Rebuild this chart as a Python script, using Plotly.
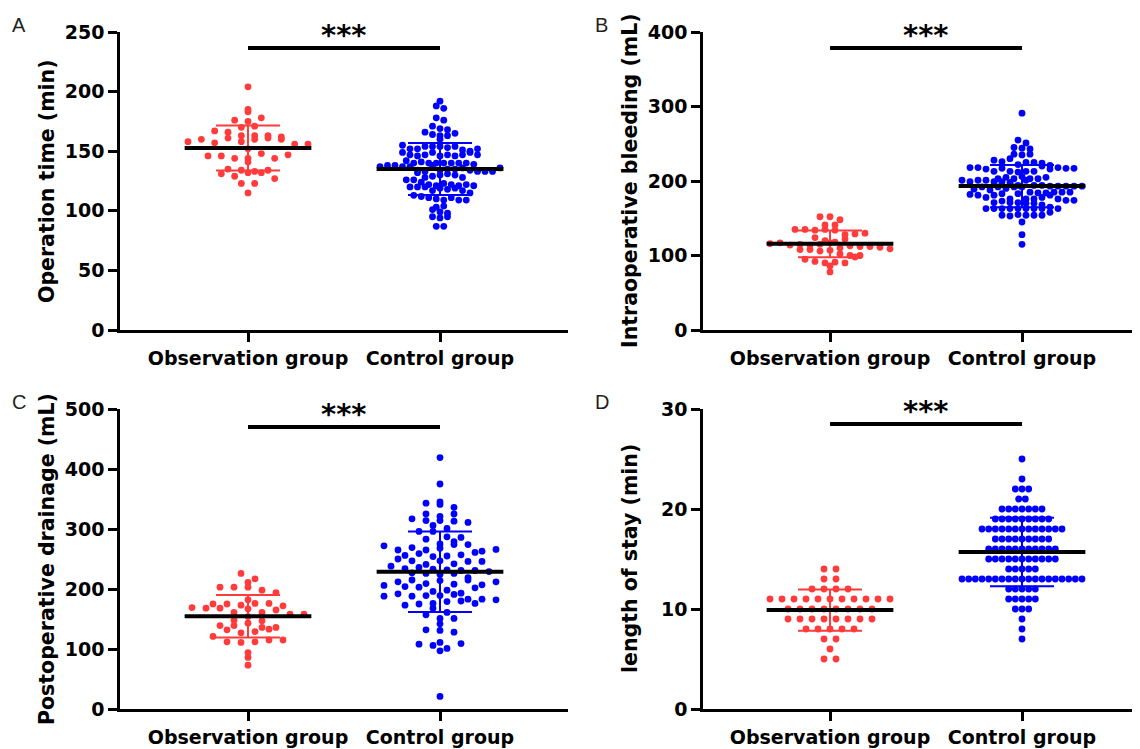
import numpy as np
import plotly.graph_objects as go

# ---------------- data ----------------
groups = ["Observation group", "Control group"]

obs_time = [204, 183, 185, 176, 175, 178, 170, 171, 167, 166, 163, 163, 163,
            158, 160, 157, 161, 158, 162, 160, 161, 160, 156, 156, 152,
            146, 146, 144, 144, 148, 144, 147, 141,
            135, 131, 129, 134, 133, 134, 132, 132, 127, 123, 123, 115]
ctrl_time = [192, 188, 186, 178, 176, 171, 169, 168, 166, 164, 163, 163, 165, 160,
             155, 152, 152, 154, 154, 154, 153, 154,
             149, 147, 146, 147, 151, 149, 146, 147, 146, 147, 149, 147, 150, 152,
             142, 140, 141, 137, 140, 140, 140, 138, 140, 138, 140, 137, 140,
             137, 134, 132, 133, 138, 139, 134, 135, 135, 136, 134, 133, 133, 133, 136,
             128, 129, 130, 131, 130, 126, 126, 128,
             124, 122, 120, 120, 121, 123, 122, 121, 122,
             120, 117, 119, 121, 118, 119, 117, 115,
             113, 112, 111, 110, 109, 111, 109, 109,
             103, 104, 101, 99, 98, 95, 94, 95, 87, 87]

obs_bleed = [152, 152, 148, 141, 141, 135, 135, 134, 135, 134, 128, 129, 130, 124,
             116, 117, 120, 114, 115, 114, 115, 118, 117, 122,
             110, 108, 108, 106, 113, 112, 112, 111, 107, 109, 102,
             100, 100, 95, 92, 90, 91, 90, 98, 86, 78]
ctrl_bleed = [291, 255, 251, 245, 244, 243, 236, 235, 236, 228, 226, 230,
              222, 225, 225, 224,
              218, 218, 216, 213, 217, 213, 212, 213, 213, 220, 216, 218, 217, 221, 217,
              203, 201, 205, 203, 206, 199, 201, 201, 199, 203, 203, 199, 198, 194, 205, 201,
              194, 189, 194, 192, 193, 193, 188, 193, 192, 193, 190, 192, 192, 193,
              182, 181, 185, 184, 184, 178, 181, 183, 176, 183, 176, 185, 185, 176, 178, 185, 181, 176,
              171, 173, 174, 171, 171, 170, 170, 174,
              163, 163, 163, 163, 163, 168, 165, 163, 163, 163, 158, 163,
              154, 153, 155, 154, 154, 154, 145, 128, 115]

obs_drain = [226, 217, 211, 203, 203, 203, 198, 194,
             182, 169, 175, 175, 173, 176, 168, 176, 168, 172,
             161, 167, 161, 165, 158, 158, 148, 154, 147,
             139, 139, 143, 136, 132, 127, 136, 129, 133,
             121, 112, 111, 112, 115, 115, 94, 86, 73]
ctrl_drain = [419, 375, 343, 345, 341, 336,
              325, 321, 325, 317, 314, 314, 313, 311, 306,
              301, 296, 296, 287, 283, 286,
              272, 265, 275, 269, 265, 268, 274, 274, 279,
              256, 259, 254, 263, 266, 255, 257, 261, 250, 247,
              241, 247, 242, 238, 234, 246, 246, 236, 233, 232, 231,
              227, 226, 224, 226, 231, 229,
              206, 204, 212, 215, 209, 214, 208, 203, 219, 215, 207, 212,
              188, 196, 192, 198, 188, 193, 189, 189, 202, 191,
              173, 183, 175, 176, 183, 179, 182, 180, 176,
              168, 157, 151, 161, 151, 142,
              132, 131, 128,
              108, 106, 101, 109, 97, 111, 21]

obs_stay = [14] * 2 + [13] * 2 + [12] * 4 + [11] * 11 + [10] * 8 + [9] * 8 + \
           [8] * 5 + [7] * 2 + [6] * 1 + [5] * 2
ctrl_stay = [25] * 1 + [23] * 1 + [22] * 3 + [21] * 2 + [20] * 7 + [19] * 9 + \
            [18] * 13 + [17] * 9 + [16] * 11 + [15] * 11 + [14] * 5 + [13] * 19 + \
            [12] * 5 + [11] * 5 + [10] * 3 + [9] * 1 + [8] * 1 + [7] * 1

panels = [
    dict(letter="A", title="Operation time (min)", obs=obs_time, ctrl=ctrl_time,
         ymax=250, dtick=50, sig=236.6),
    dict(letter="B", title="Intraoperative bleeding (mL)", obs=obs_bleed, ctrl=ctrl_bleed,
         ymax=400, dtick=100, sig=378.5),
    dict(letter="C", title="Postoperative drainage (mL)", obs=obs_drain, ctrl=ctrl_drain,
         ymax=500, dtick=100, sig=470),
    dict(letter="D", title="length of stay (min)", obs=obs_stay, ctrl=ctrl_stay,
         ymax=30, dtick=10, sig=28.5),
]

# ---------------- layout geometry ----------------
W, H = 1140, 749
RED = "#FF3B3B"
BLUE = "#0000FF"
FONT = "DejaVu Sans"
XPX_PER_UNIT = 192.0
OFF = 8  # the page body adds an 8 px margin; compensate

# pixel boxes of the four plotting areas on screen (left, right, top, bottom)
boxes = [(120, 568, 32, 330), (703, 1140, 32, 330),
         (120, 568, 409, 709), (703, 1140, 409, 709)]
boxes = [(l - OFF, r - OFF, t - OFF, b - OFF) for (l, r, t, b) in boxes]


def swarm(vals, ypx_per_unit, h=7.0, row_width=120.0, dmax=14.0):
    """GraphPad-like scatter: bin into pixel rows, centre each row,
    spacing chosen so that the widest row fills the column."""
    v = np.asarray(vals, float)
    rows = np.round(v * ypx_per_unit / h).astype(int)
    uniq, counts = np.unique(rows, return_counts=True)
    d = min(dmax, row_width / max(counts.max() - 1, 1))
    offs = np.zeros(len(v))
    for r in uniq:
        idx = np.where(rows == r)[0]
        n = len(idx)
        for k, i in enumerate(idx):
            offs[i] = (k - (n - 1) / 2) * d / XPX_PER_UNIT
    return offs


fig = go.Figure()
layout = dict(width=W, height=H, margin=dict(l=0, r=0, t=0, b=0, pad=0, autoexpand=False),
              paper_bgcolor="white", plot_bgcolor="white", showlegend=False,
              annotations=[])

for p_i, p in enumerate(panels):
    n = "" if p_i == 0 else str(p_i + 1)
    xa, ya = "x" + n, "y" + n
    l, r, t, b = boxes[p_i]
    ypx = (b - t) / p["ymax"]
    xmin = -128 / XPX_PER_UNIT if p_i % 2 == 0 else -127 / XPX_PER_UNIT
    xmax = xmin + (r - l) / XPX_PER_UNIT

    for gi, (vals, col) in enumerate([(p["obs"], RED), (p["ctrl"], BLUE)]):
        v = np.asarray(vals, float)
        xs = gi + swarm(v, ypx)
        fig.add_trace(go.Scatter(x=xs, y=v, mode="markers", xaxis=xa, yaxis=ya,
                                 marker=dict(size=6.8, color=col, line=dict(width=0)),
                                 hoverinfo="y"))
    for gi, (vals, col) in enumerate([(p["obs"], RED), (p["ctrl"], BLUE)]):
        v = np.asarray(vals, float)
        m, sd = v.mean(), v.std(ddof=1)
        fig.add_trace(go.Scatter(x=[gi], y=[m], mode="markers", xaxis=xa, yaxis=ya,
                                 marker=dict(size=1, color=col, opacity=0),
                                 error_y=dict(type="data", array=[sd], visible=True,
                                              color=col, thickness=2, width=32)))
        fig.add_trace(go.Scatter(x=[gi - 0.33, gi + 0.33], y=[m, m], mode="lines",
                                 xaxis=xa, yaxis=ya,
                                 line=dict(color="black", width=4)))
    # significance bar
    fig.add_trace(go.Scatter(x=[0, 1], y=[p["sig"], p["sig"]], mode="lines",
                             xaxis=xa, yaxis=ya, line=dict(color="black", width=4),
                             cliponaxis=False))
    layout["annotations"].append(dict(
        x=0.5, y=p["sig"], xref=xa, yref=ya, text="<b>***</b>", showarrow=False,
        yanchor="bottom", yshift=-6, font=dict(family=FONT, size=29, color="black")))

    axcommon = dict(showline=True, linecolor="black", linewidth=2.6, ticks="outside",
                    ticklen=9, tickwidth=2.6, tickcolor="black", showgrid=False,
                    zeroline=False, automargin=False,
                    tickfont=dict(family=FONT, size=19, color="black", weight="bold"))
    layout["xaxis" + n] = dict(axcommon, domain=[l / W, min(r / W, 1.0)],
                               range=[xmin, xmax],
                               anchor=ya, tickmode="array", tickvals=[0, 1],
                               ticktext=groups, fixedrange=True)
    layout["yaxis" + n] = dict(axcommon, domain=[1 - b / H, 1 - t / H],
                               range=[0, p["ymax"]], dtick=p["dtick"], tick0=0,
                               anchor=xa, fixedrange=True)
    # axis title as rotated text
    layout["annotations"].append(dict(
        x=(l - 73) / W, y=1 - ((t + b) / 2) / H, xref="paper", yref="paper",
        text=p["title"], textangle=-90, showarrow=False, xanchor="center",
        yanchor="middle",
        font=dict(family=FONT, size=20.5, color="black", weight="bold")))
    # panel letter
    layout["annotations"].append(dict(
        x=(l - 110) / W, y=1 - (t - 20) / H, xref="paper", yref="paper",
        text=p["letter"], showarrow=False, xanchor="left", yanchor="top",
        font=dict(family="Liberation Sans", size=20, color="#231F20")))

fig.update_layout(**layout)
fig.write_html("out.html")
